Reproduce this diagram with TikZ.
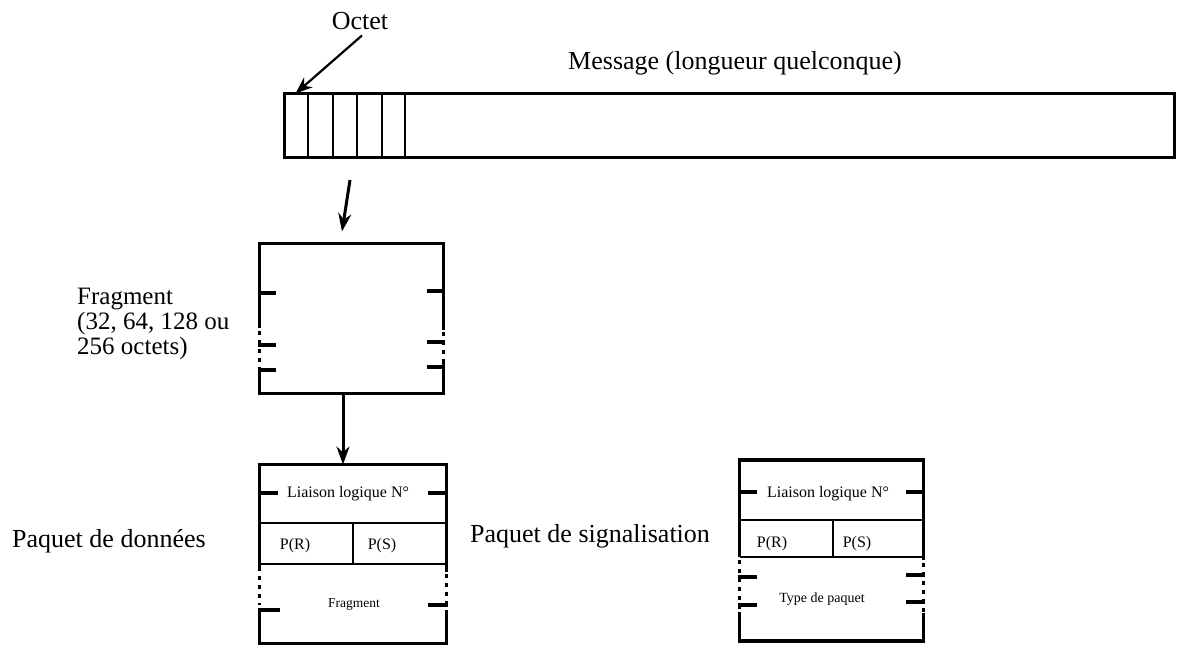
\documentclass[tikz,border=0pt]{standalone}
\usepackage{fontspec}
\setmainfont{Liberation Serif}
\usepackage{tikz}
\usetikzlibrary{arrows.meta}
\usetikzlibrary{calc}

\begin{document}
\begin{tikzpicture}[x=1pt, y=-1pt, >={Stealth[length=18pt, width=13pt]},
	big label/.style={font=\fontsize{26}{25}\selectfont, inner sep=0pt},
	frag label/.style={font=\fontsize{25}{25}\selectfont, inner sep=0pt},
	small label/.style={font=\fontsize{16}{16}\selectfont, inner sep=0pt},
	tiny label/.style={font=\fontsize{13.5}{14}\selectfont, inner sep=0pt},
	frame/.style={line width=3.5pt},
	cell/.style={line width=2pt},
	gap/.style={line width=3.5pt, dash pattern=on 4pt off 5pt},
	block/.style={rectangle, inner sep=0pt, outer sep=0pt},
]
\useasboundingbox (0,0) rectangle (1186,647);
% message
\node [block, draw, frame, minimum width=890pt, minimum height=64pt] at (729.5,125.5) (msg) {};
\foreach \x in {308,333,357,382,405}
	\draw [cell] (\x,93.5) -- (\x,157.5);
\node [big label, anchor=base] at (360,30) (octet) {Octet};
\node [big label, anchor=base] at (735,70) (msglabel) {Message (longueur quelconque)};
\draw [->, line width=2.2pt, >={Stealth[length=17pt, width=13pt]}] ($(octet.south)+(2,5)$) -- ($(msg.north west)+(11,0)$);
\coordinate (cut) at (350,180);
% fragment
\node [block, minimum width=184pt, minimum height=150pt] at (351.5,318.5) (frag) {};
\draw [->, line width=3pt] (cut) -- ($(frag.north)+(-9.5,-12)$);
\draw [frame] (259.5,328) -- (259.5,243.5) -- (443.5,243.5) -- (443.5,330);
\draw [frame] (259.5,368) -- (259.5,393.5) -- (443.5,393.5) -- (443.5,362);
\draw [gap] (259.5,331) -- (259.5,368);
\draw [gap] (443.5,332) -- (443.5,362);
\foreach \y in {293,345,370}
	\draw [frame] (258,\y) -- (276,\y);
\foreach \y in {291,342,367}
	\draw [frame] (427,\y) -- (445,\y);
\node [frag label, align=left, anchor=north west] at (77,288) (fraglabel) {Fragment\\(32, 64, 128 ou\\256 octets)};
% paquet de donnees
\node [block, minimum width=187pt, minimum height=179pt] at (353,554) (data) {};
\draw [->, line width=3pt] ($(frag.south)+(-8.5,0)$) -- ($(data.north)+(-10,0)$);
\draw [frame] (259.5,567) -- (259.5,464.5) -- (446.5,464.5) -- (446.5,572);
\draw [cell] (259.5,523) -- (446.5,523);
\draw [cell] (259.5,564) -- (446.5,564);
\draw [cell] (353,523) -- (353,564);
\draw [gap] (259.5,567) -- (259.5,605);
\draw [gap] (446.5,574) -- (446.5,608);
\draw [frame] (259.5,612) -- (259.5,643.5) -- (446.5,643.5) -- (446.5,610);
\draw [frame] (258,493) -- (278,493);
\draw [frame] (428,493) -- (448,493);
\draw [frame] (258,610) -- (280,610);
\draw [frame] (428,605) -- (448,605);
\node [small label, anchor=base] at (348,497) (liaisonA) {Liaison logique N°};
\node [small label, anchor=base] at (295,549) (prA) {P(R)};
\node [small label, anchor=base] at (382,549) (psA) {P(S)};
\node [tiny label, anchor=base] at (354,607) (fragA) {Fragment};
\node [big label, anchor=base west] at (12,547) (datalabel) {Paquet de données};
% paquet de signalisation
\node [block, minimum width=184pt, minimum height=181pt] at (831.5,550.5) (sig) {};
\draw [frame] (739.5,557) -- (739.5,460) -- (923.5,460) -- (923.5,560);
\draw [cell] (739.5,520) -- (923.5,520);
\draw [cell] (739.5,557) -- (923.5,557);
\draw [cell] (833,520) -- (833,557);
\draw [gap] (739.5,560) -- (739.5,610);
\draw [gap] (923.5,563) -- (923.5,612);
\draw [frame] (739.5,612) -- (739.5,641) -- (923.5,641) -- (923.5,613);
\draw [frame] (738,492) -- (757,492);
\draw [frame] (906,492) -- (925,492);
\foreach \y in {577,605}
	\draw [frame] (738,\y) -- (757,\y);
\foreach \y in {575,602}
	\draw [frame] (906,\y) -- (925,\y);
\node [small label, anchor=base] at (828,497) (liaisonB) {Liaison logique N°};
\node [small label, anchor=base] at (772,547) (prB) {P(R)};
\node [small label, anchor=base] at (857,547) (psB) {P(S)};
\node [tiny label, font=\fontsize{14}{14}\selectfont, anchor=base] at (822,602) (typeB) {Type de paquet};
\node [big label, anchor=base west] at (470,542) (siglabel) {Paquet de signalisation};
\end{tikzpicture}
\end{document}
